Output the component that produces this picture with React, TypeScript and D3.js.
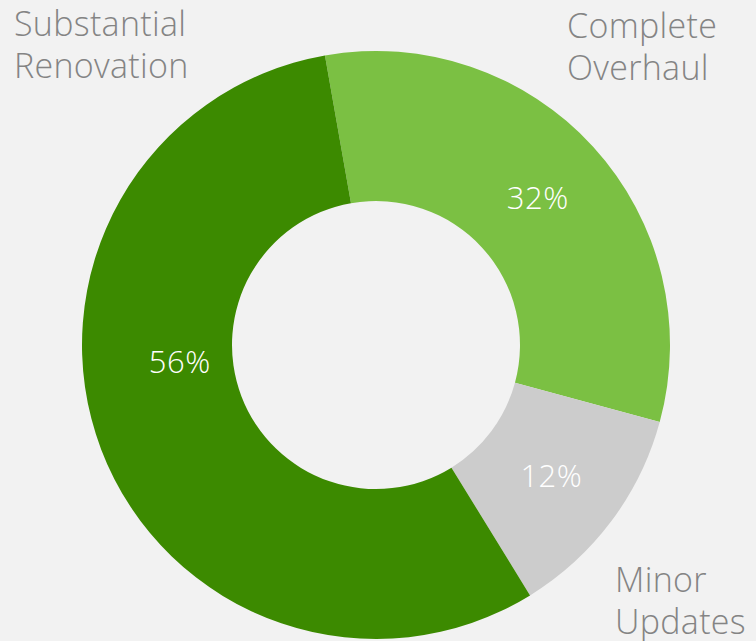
import React, { useEffect, useRef } from "react";
import * as d3 from "d3";

const categories = ["Complete Overhaul", "Minor Updates", "Substantial Renovation"];
const values = [32, 12, 56];
const labelLines = [["Complete", "Overhaul"], ["Minor", "Updates"], ["Substantial", "Renovation"]];
const colors = ["#7bc043", "#cccccc", "#3c8a00"];

const W = 756;
const H = 641;

export default function App() {
  const ref = useRef<SVGSVGElement>(null);
  useEffect(() => {
    document.body.style.margin = "0";
    const svg = d3.select(ref.current);
    svg.selectAll("*").remove();
    svg.append("rect").attr("width", W).attr("height", H).attr("fill", "#f2f2f2");
    const cx = 376, cy = 345, outer = 294, inner = 144;
    const startA = (-10 * Math.PI) / 180;
    const pie = d3.pie<number>().sort(null).value((d) => d).startAngle(startA).endAngle(startA + 2 * Math.PI);
    const arcs = pie(values);
    const arc = d3.arc<d3.PieArcDatum<number>>().innerRadius(inner).outerRadius(outer);
    const g = svg.append("g").attr("transform", `translate(${cx},${cy})`);
    g.selectAll("path.slice").data(arcs).enter().append("path")
      .attr("class", "slice")
      .attr("d", arc)
      .attr("fill", (_d, i) => colors[i]);
    const font = "'Open Sans', sans-serif";
    const labelPos = (d: d3.PieArcDatum<number>, i: number): [number, number] => {
      if (i === 2) {
        const a = (265 * Math.PI) / 180;
        const r = 197;
        return [r * Math.sin(a), -r * Math.cos(a)];
      }
      return arc.centroid(d) as [number, number];
    };
    g.selectAll("text.pct").data(arcs).enter().append("text")
      .attr("class", "pct")
      .attr("x", (d, i) => labelPos(d, i)[0])
      .attr("y", (d, i) => labelPos(d, i)[1])
      .attr("dy", "0.36em")
      .attr("text-anchor", "middle")
      .attr("fill", "#ffffff")
      .attr("font-family", font)
      .attr("font-weight", 300)
      .attr("font-size", 31)
      .attr("letter-spacing", 0.5)
      .text((d) => `${d.data}%`);
    const outPos: [number, number][] = [[567, 38], [615, 592], [14, 36]];
    categories.forEach((_c, i) => {
      const t = svg.append("text")
        .attr("x", outPos[i][0])
        .attr("y", outPos[i][1])
        .attr("fill", "#848484")
        .attr("font-family", font)
        .attr("font-weight", 300)
        .attr("font-size", 34)
        .attr("letter-spacing", 0.3);
      labelLines[i].forEach((ln, j) => {
        t.append("tspan").attr("x", outPos[i][0]).attr("dy", j === 0 ? 0 : 42).text(ln);
      });
    });
  }, []);
  return <svg ref={ref} width={W} height={H} style={{ position: "absolute", left: 0, top: 0 }} />;
}
